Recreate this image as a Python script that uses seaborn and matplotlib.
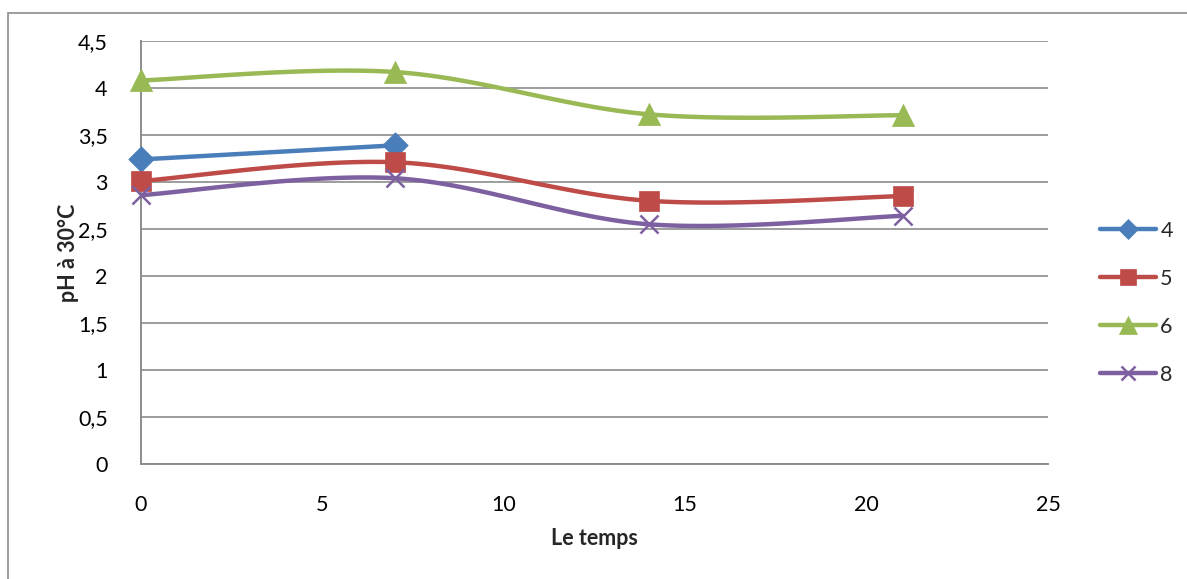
import numpy as np
import pandas as pd
import matplotlib
matplotlib.use("Agg")
import matplotlib.pyplot as plt
from matplotlib.lines import Line2D
from matplotlib.patches import Rectangle
import seaborn as sns

# Sampling days and pH readings per series
days = [0, 7, 14, 21]
ph_4 = [3.24, 3.39]
ph_5 = [3.01, 3.21, 2.80, 2.85]
ph_6 = [4.08, 4.17, 3.72, 3.71]
ph_8 = [2.86, 3.04, 2.55, 2.64]

series_names = ["4", "5", "6", "8"]
series_values = [ph_4, ph_5, ph_6, ph_8]
colors = ["#4A7EBB", "#BE4B48", "#98B954", "#7D60A0"]
markers = ["D", "s", "^", "x"]
marker_sizes = [13, 14, 16, 13]

x_ticks = [0, 5, 10, 15, 20, 25]
y_ticks = [0, 0.5, 1, 1.5, 2, 2.5, 3, 3.5, 4, 4.5]

sns.set_theme(style="white")
plt.rcParams["font.family"] = ["Lato", "DejaVu Sans"]
FS = 15.5

W, H = 1187, 579
fig = plt.figure(figsize=(W / 100, H / 100), dpi=100)
ax = fig.add_axes([141 / W, 1 - 464 / H, (1048 - 141) / W, (464 - 41) / H])
ax.set_xlim(0, 25)
ax.set_ylim(0, 4.5)

# pixel scale used for the smoothed curve (screen-space Bezier)
sx = (1048 - 141) / 25.0
sy = (464 - 41) / 4.5


def smooth_curve(xs, ys, n=40):
    px = np.asarray(xs, float) * sx
    py = np.asarray(ys, float) * sy
    pts = np.column_stack([px, py])
    if len(pts) < 3:
        return list(xs), list(ys)
    ext = np.vstack([pts[0], pts, pts[-1]])
    out = [pts[0]]
    t = np.linspace(0, 1, n)[1:]
    for i in range(1, len(ext) - 2):
        p0, p1, p2, p3 = ext[i - 1], ext[i], ext[i + 1], ext[i + 2]
        c1 = p1 + (p2 - p0) / 6.0
        c2 = p2 - (p3 - p1) / 6.0
        for tt in t:
            b = ((1 - tt) ** 3) * p1 + 3 * ((1 - tt) ** 2) * tt * c1 \
                + 3 * (1 - tt) * tt ** 2 * c2 + tt ** 3 * p2
            out.append(b)
    out = np.array(out)
    return list(out[:, 0] / sx), list(out[:, 1] / sy)


handles = []
for name, vals, col, mk, ms in zip(series_names, series_values, colors, markers, marker_sizes):
    xs = days[:len(vals)]
    cx, cy = smooth_curve(xs, vals)
    curve = pd.DataFrame({"x": cx, "y": cy})
    sns.lineplot(data=curve, x="x", y="y", ax=ax, color=col, linewidth=3.2,
                 sort=False, estimator=None, zorder=3)
    pts = pd.DataFrame({"x": xs, "y": vals})
    if mk == "x":
        sns.scatterplot(data=pts, x="x", y="y", ax=ax, marker="x", s=ms ** 2,
                        color=col, linewidth=1.8, zorder=4, clip_on=False)
    else:
        sns.scatterplot(data=pts, x="x", y="y", ax=ax, marker=mk, s=ms ** 2,
                        color=col, edgecolor=col, linewidth=0.5, zorder=4,
                        clip_on=False)
    handles.append(Line2D([0], [0], color=col, linewidth=3.2, marker=mk,
                          markersize=ms * 0.8, markeredgecolor=col,
                          markerfacecolor=col,
                          markeredgewidth=1.8 if mk == "x" else 0.5))

ax.set_xticks(x_ticks)
ax.set_yticks(y_ticks)
ax.set_xticklabels([str(v) for v in x_ticks])
ax.set_yticklabels([f"{v:g}".replace(".", ",") for v in y_ticks])
ax.tick_params(axis="both", length=0, labelsize=FS, colors="black")
ax.tick_params(axis="y", pad=24)
ax.tick_params(axis="x", pad=22)

ax.grid(axis="y", color="#8C8C8C", linewidth=1.2)
ax.grid(axis="x", visible=False)
for side in ["top", "right"]:
    ax.spines[side].set_visible(False)
for side in ["left", "bottom"]:
    ax.spines[side].set_visible(True)
    ax.spines[side].set_color("#8C8C8C")
    ax.spines[side].set_linewidth(1.4)
ax.set_axisbelow(True)

ax.set_xlabel("Le temps", fontsize=FS, fontweight="bold", labelpad=10)
ax.set_ylabel("pH à 30°C", fontsize=FS, fontweight="bold", labelpad=-1)

leg = fig.legend(handles=handles, labels=series_names, loc="center left",
                 bbox_to_anchor=(1100 / W, 1 - 303 / H), frameon=False,
                 fontsize=FS, handlelength=2.6, labelspacing=1.3,
                 handletextpad=0.2, borderaxespad=0, borderpad=0)

# outer chart frame
fig.patches.append(Rectangle((8 / W, -0.05), 1.1, 1 - 13 / H + 0.05,
                             transform=fig.transFigure, fill=False,
                             edgecolor="#8C8C8C", linewidth=1.2))

fig.savefig("out.png", dpi=100, facecolor="white")
